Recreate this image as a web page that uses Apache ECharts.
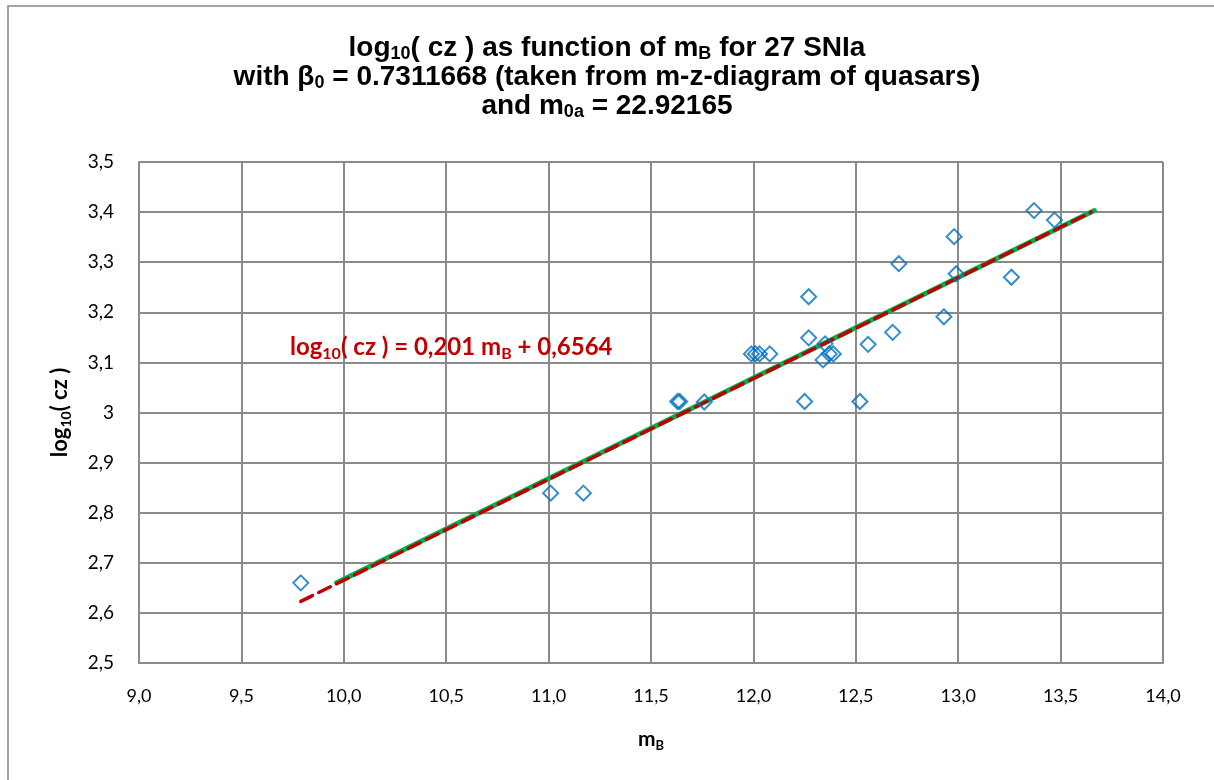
<!DOCTYPE html>
<html>
<head>
<meta charset="utf-8">
<script src="https://cdn.jsdelivr.net/npm/echarts@6/dist/echarts.min.js"></script>
<style>
html, body { margin: 0; padding: 0; background: #fff; }
#main { width: 1214px; height: 780px; }
</style>
</head>
<body>
<div id="main"></div>
<script>
/*数据*/
var mB = [9.79, 11.01, 11.17, 11.63, 11.64, 11.76, 11.99, 12.01, 12.03, 12.08, 12.25, 12.27, 12.27,
    12.34, 12.35, 12.37, 12.39, 12.52, 12.56, 12.68, 12.71, 12.93, 12.98, 12.99, 13.26, 13.37, 13.47];
var logCz = [2.660, 2.839, 2.839, 3.022, 3.022, 3.021, 3.117, 3.117, 3.117, 3.117, 3.022, 3.149, 3.231,
    3.105, 3.137, 3.117, 3.117, 3.022, 3.136, 3.160, 3.297, 3.191, 3.351, 3.277, 3.270, 3.403, 3.384];
var greenLineX = [9.965, 13.665];
var greenLineY = [2.660, 3.403];
var redLineX = [9.79, 13.65];
var redLineY = [2.623, 3.400];
var xTicks = [9.0, 9.5, 10.0, 10.5, 11.0, 11.5, 12.0, 12.5, 13.0, 13.5, 14.0];
var yTicks = [2.5, 2.6, 2.7, 2.8, 2.9, 3.0, 3.1, 3.2, 3.3, 3.4, 3.5];

function pairs(xs, ys) {
    var out = [];
    for (var i = 0; i < xs.length; i++) {
        out.push([xs[i], ys[i]]);
    }
    return out;
}

var gridColor = '#8a8a8a';
var labelFont = 'Lato, "Open Sans", sans-serif';
var titleFont = '"Liberation Sans", Arial, sans-serif';

var option = {
    animation: false,
    title: [{
        text: '{t|log}{s|10}{t|( cz ) as function of m}{s|B}{t| for 27 SNIa}\n' +
              '{t|with β}{s|0}{t| = 0.7311668 (taken from m-z-diagram of quasars)}\n' +
              '{t|and m}{s|0a}{t| = 22.92165}',
        left: 'center',
        top: 29,
        textStyle: {
            align: 'center',
            rich: {
                t: {
                    fontFamily: titleFont,
                    fontWeight: 'bold',
                    fontSize: 28,
                    lineHeight: 29,
                    color: '#000'
                },
                s: {
                    fontFamily: titleFont,
                    fontWeight: 'bold',
                    fontSize: 18,
                    lineHeight: 19,
                    verticalAlign: 'bottom',
                    color: '#000'
                }
            }
        }
    }, {
        // 趋势线方程
        text: '{t|log}{s|10}{t|( cz ) = 0,201 m}{s|B}{t| + 0,6564}',
        left: 285,
        top: 327,
        textStyle: {
            rich: {
                t: {
                    fontFamily: labelFont,
                    fontWeight: 'bold',
                    fontSize: 24,
                    lineHeight: 30,
                    color: '#C00000'
                },
                s: {
                    fontFamily: labelFont,
                    fontWeight: 'bold',
                    fontSize: 16,
                    lineHeight: 19,
                    verticalAlign: 'bottom',
                    color: '#C00000'
                }
            }
        }
    }],
    graphic: [{
        type: 'rect',
        silent: true,
        z: -1,
        shape: { x: 8, y: 6, width: 1300, height: 900 },
        style: { fill: 'none', stroke: '#878787', lineWidth: 1.5 }
    }],
    grid: {
        left: 139,
        top: 162,
        width: 1024,
        height: 501,
        containLabel: false,
        outerBoundsMode: 'none'
    },
    xAxis: {
        type: 'value',
        min: xTicks[0],
        max: xTicks[xTicks.length - 1],
        interval: 0.5,
        name: '{t|m}{s|B}',
        nameLocation: 'middle',
        nameGap: 63,
        nameTextStyle: {
            rich: {
                t: { fontFamily: labelFont, fontWeight: 'bold', fontSize: 21, lineHeight: 26, color: '#000' },
                s: { fontFamily: labelFont, fontWeight: 'bold', fontSize: 13, lineHeight: 15, verticalAlign: 'bottom', color: '#000' }
            }
        },
        splitLine: { show: true, lineStyle: { color: gridColor, width: 2 } },
        axisLine: { show: true, lineStyle: { color: gridColor, width: 2 } },
        axisTick: { show: false },
        axisLabel: {
            margin: 24,
            color: '#000',
            fontFamily: labelFont,
            fontSize: 18,
            formatter: function (v) {
                return v.toFixed(1).replace('.', ',');
            }
        }
    },
    yAxis: {
        type: 'value',
        min: yTicks[0],
        max: yTicks[yTicks.length - 1],
        interval: 0.1,
        name: '{t|log}{s|10}{t|( cz )}',
        nameLocation: 'middle',
        nameRotate: 90,
        nameGap: 66,
        nameTextStyle: {
            rich: {
                t: { fontFamily: labelFont, fontWeight: 'bold', fontSize: 22, lineHeight: 26, color: '#000' },
                s: { fontFamily: labelFont, fontWeight: 'bold', fontSize: 14, lineHeight: 16, verticalAlign: 'bottom', color: '#000' }
            }
        },
        splitLine: { show: true, lineStyle: { color: gridColor, width: 2 } },
        axisLine: { show: true, lineStyle: { color: gridColor, width: 2 } },
        axisTick: { show: false },
        axisLabel: {
            margin: 25,
            color: '#000',
            fontFamily: labelFont,
            fontSize: 19,
            formatter: function (v) {
                return String(Math.round(v * 10) / 10).replace('.', ',');
            }
        }
    },
    series: [
        {
            type: 'line',
            data: pairs(greenLineX, greenLineY),
            showSymbol: false,
            z: 2,
            lineStyle: { color: '#00B050', width: 5, cap: 'round' }
        },
        {
            type: 'line',
            data: pairs(redLineX, redLineY),
            showSymbol: false,
            z: 3,
            lineStyle: { color: '#C00000', width: 3.5, type: [13, 7], cap: 'round' }
        },
        {
            type: 'scatter',
            data: pairs(mB, logCz),
            symbol: 'diamond',
            symbolSize: 15,
            z: 4,
            itemStyle: {
                color: 'rgba(255,255,255,0)',
                borderColor: '#0070C0',
                borderWidth: 2
            }
        }
    ]
};

var chart = echarts.init(document.getElementById('main'));
chart.setOption(option);
</script>
</body>
</html>
